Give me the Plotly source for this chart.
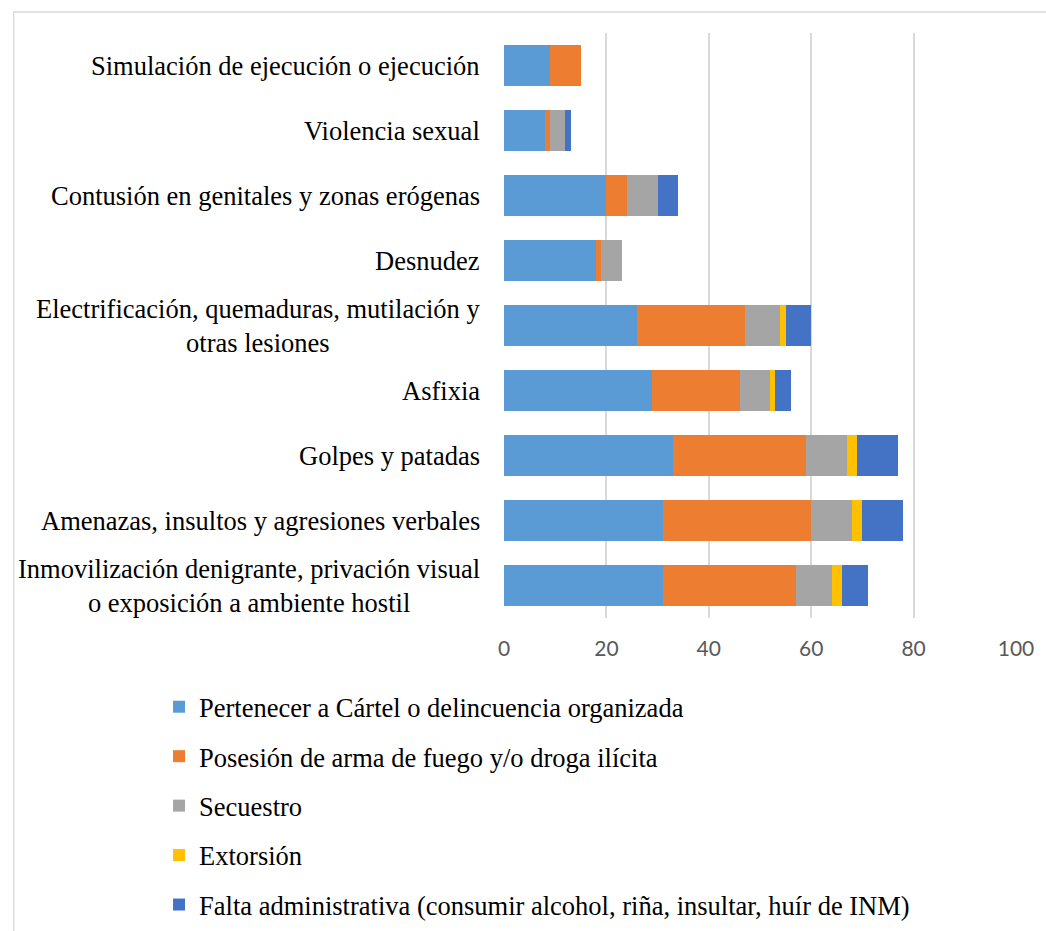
import plotly.graph_objects as go

categories = [
    "Inmovilización denigrante, privación visual<br>o exposición a ambiente hostil",
    "Amenazas, insultos y agresiones verbales",
    "Golpes y patadas",
    "Asfixia",
    "Electrificación, quemaduras, mutilación y<br>otras lesiones",
    "Desnudez",
    "Contusión en genitales y zonas erógenas",
    "Violencia sexual",
    "Simulación de ejecución o ejecución",
]

series_names = [
    "Pertenecer a Cártel o delincuencia organizada",
    "Posesión de arma de fuego y/o droga ilícita",
    "Secuestro",
    "Extorsión",
    "Falta administrativa (consumir alcohol, riña, insultar, huír de INM)",
]

cartel =     [31, 31, 33, 29, 26, 18, 20, 8, 9]
arma =       [26, 29, 26, 17, 21, 1, 4, 1, 6]
secuestro =  [7, 8, 8, 6, 7, 4, 6, 3, 0]
extorsion =  [2, 2, 2, 1, 1, 0, 0, 0, 0]
falta =      [5, 8, 8, 3, 5, 0, 4, 1, 0]

series_values = [cartel, arma, secuestro, extorsion, falta]
colors = ["#5B9BD5", "#ED7D31", "#A5A5A5", "#FFC000", "#4472C4"]

tick_vals = [0, 20, 40, 60, 80, 100]

serif = "Liberation Serif, Times New Roman, serif"
FS = 26.5

fig = go.Figure()
for i, (name, vals, col) in enumerate(zip(series_names, series_values, colors)):
    fig.add_trace(go.Bar(
        y=list(range(len(categories))), x=vals, name=name, orientation="h",
        marker=dict(color=col, line=dict(width=0)),
        legendgroup=f"g{i}",
    ))

for i, cat in enumerate(categories):
    fig.add_annotation(
        x=0, xref="paper", xshift=-22, y=i, yref="y",
        text=cat, showarrow=False, xanchor="right", yanchor="middle",
        align="center", font=dict(family=serif, size=FS, color="#000000"),
    )

L, R, T, B = 504, 24, 33, 313
W, H = 1046, 931
pw, ph = W - L - R, H - T - B

fig.add_shape(
    type="rect", xref="paper", yref="paper",
    x0=(8 - L) / pw, x1=(1060 - L) / pw,
    y0=(ph + T - 945) / ph, y1=(ph + T - 12) / ph,
    line=dict(color="#D9D9D9", width=1.3), fillcolor="rgba(0,0,0,0)", layer="below",
)

fig.update_layout(
    barmode="stack",
    bargap=0.38,
    width=W, height=H,
    margin=dict(l=L, r=R, t=T, b=B),
    paper_bgcolor="white", plot_bgcolor="white",
    xaxis=dict(
        range=[0, 100], tickvals=tick_vals, showgrid=True,
        gridcolor="#D9D9D9", gridwidth=1.5, zeroline=False,
        tickfont=dict(family="Lato, Open Sans, sans-serif", size=21, color="#595959"),
        ticks="", ticklabelstandoff=16, fixedrange=True,
    ),
    yaxis=dict(
        range=[-0.5, 8.5], showticklabels=False, showgrid=False,
        zeroline=False, ticks="", fixedrange=True,
    ),
    legend=dict(
        x=(155 - L) / pw, xanchor="left", xref="paper",
        y=(H - 683) / H, yanchor="top", yref="container",
        orientation="v", traceorder="grouped", tracegroupgap=12,
        font=dict(family=serif, size=FS, color="#000000"),
        bgcolor="rgba(0,0,0,0)",
    ),
    showlegend=True,
)

fig.write_html("out.html")
